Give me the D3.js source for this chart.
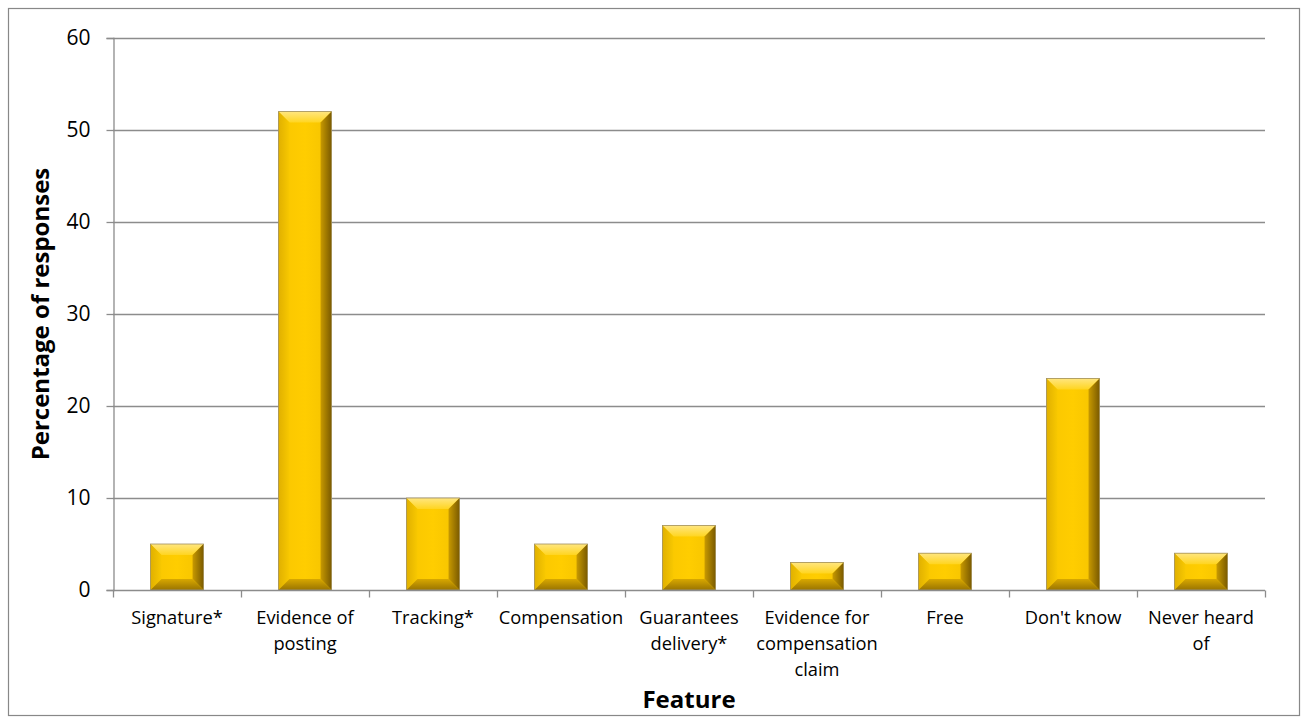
<!DOCTYPE html>
<html>
<head>
<meta charset="utf-8">
<script src="https://cdn.jsdelivr.net/npm/d3@7"></script>
<style>
  body { margin: 0; background: #fff; }
  text { font-family: "Open Sans", "Noto Sans", sans-serif; fill: #000; }
</style>
</head>
<body>
<script>
var features = ['Signature*', 'Evidence of posting', 'Tracking*', 'Compensation',
  'Guarantees delivery*', 'Evidence for compensation claim', 'Free', "Don't know", 'Never heard of']
var featureLines = [['Signature*'], ['Evidence of', 'posting'], ['Tracking*'], ['Compensation'],
  ['Guarantees', 'delivery*'], ['Evidence for', 'compensation', 'claim'], ['Free'], ["Don't know"], ['Never heard', 'of']]
var percentages = [5, 52, 10, 5, 7, 3, 4, 23, 4]
var yTicks = [0, 10, 20, 30, 40, 50, 60]

var W = 1306, H = 724
var svg = d3.select('body').append('svg').attr('width', W).attr('height', H)

svg.append('rect').attr('x', 8.5).attr('y', 8.5).attr('width', 1291).attr('height', 707)
  .attr('fill', '#fff').attr('stroke', '#888').attr('stroke-width', 1.2)

var pLeft = 113, pRight = 1265, pTop = 38, pBottom = 590
var x = d3.scaleBand().domain(features).range([pLeft, pRight]).paddingInner(0.585).paddingOuter(0.2925)
var xb = d3.scaleBand().domain(features).range([pLeft, pRight])
var y = d3.scaleLinear().domain([0, 60]).range([pBottom, pTop])

// gridlines
svg.append('g').selectAll('line').data(yTicks.slice(1)).enter().append('line')
  .attr('x1', pLeft).attr('x2', pRight)
  .attr('y1', function(d){ return Math.round(y(d)) + 0.5 })
  .attr('y2', function(d){ return Math.round(y(d)) + 0.5 })
  .attr('stroke', '#8c8c8c').attr('stroke-width', 1.3)

// y axis
var ya = svg.append('g').attr('transform', 'translate(' + (pLeft + 0.5) + ',0)')
  .call(d3.axisLeft(y).tickValues(yTicks).tickSize(7).tickPadding(16))
ya.select('.domain').attr('stroke', '#8c8c8c').attr('stroke-width', 1.3)
ya.selectAll('.tick line').attr('stroke', '#8c8c8c').attr('stroke-width', 1.3)
ya.selectAll('.tick text').style('font-size', '21px').style('font-family', '"Open Sans", sans-serif')

// bars with bevel
var defs = svg.append('defs')
function grad(id, horiz, stops){
  var lg = defs.append('linearGradient').attr('id', id)
    .attr('x1', 0).attr('y1', 0).attr('x2', horiz ? 1 : 0).attr('y2', horiz ? 0 : 1)
  stops.forEach(function(s){ lg.append('stop').attr('offset', s[0]).attr('stop-color', s[1]) })
}
grad('face', true, [['0%', '#f9c600'], ['50%', '#ffcd00'], ['100%', '#f4c200']])
grad('bvTop', false, [['0%', '#ffe680'], ['100%', '#ffd520']])
grad('bvLeft', true, [['0%', '#e0b000'], ['100%', '#f8c800']])
grad('bvRight', true, [['0%', '#c89a00'], ['100%', '#7a5a00']])
grad('bvBottom', false, [['0%', '#d8a800'], ['100%', '#9a7400']])

var g = svg.append('g')
percentages.forEach(function(v, i){
  var x0 = x(features[i]), x1 = x0 + x.bandwidth()
  var y0 = y(v), y1 = y(0)
  var b = Math.min(11, (y1 - y0) / 2.2)
  var bar = g.append('g')
  bar.append('rect').attr('x', x0).attr('y', y0).attr('width', x1 - x0).attr('height', y1 - y0).attr('fill', 'url(#face)')
  bar.append('polygon').attr('points', [[x0, y0], [x1, y0], [x1 - b, y0 + b], [x0 + b, y0 + b]].join(' '))
    .attr('fill', 'url(#bvTop)')
  bar.append('polygon').attr('points', [[x0, y0], [x0 + b, y0 + b], [x0 + b, y1 - b], [x0, y1]].join(' '))
    .attr('fill', 'url(#bvLeft)')
  bar.append('polygon').attr('points', [[x1, y0], [x1 - b, y0 + b], [x1 - b, y1 - b], [x1, y1]].join(' '))
    .attr('fill', 'url(#bvRight)')
  bar.append('polygon').attr('points', [[x0, y1], [x0 + b, y1 - b], [x1 - b, y1 - b], [x1, y1]].join(' '))
    .attr('fill', 'url(#bvBottom)')
  bar.append('rect').attr('x', x0).attr('y', y0).attr('width', x1 - x0).attr('height', y1 - y0)
    .attr('fill', 'none').attr('stroke', '#a09060').attr('stroke-width', 0.8)
})

// x axis
var xa = svg.append('g').attr('transform', 'translate(0,' + (pBottom + 0.5) + ')')
xa.append('line').attr('x1', pLeft).attr('x2', pRight).attr('stroke', '#8c8c8c').attr('stroke-width', 1.3)
var bounds = features.map(function(f){ return xb(f) }).concat([pRight])
xa.selectAll('.tk').data(bounds).enter().append('line')
  .attr('x1', function(d){ return Math.round(d) + 0.5 }).attr('x2', function(d){ return Math.round(d) + 0.5 })
  .attr('y1', 0).attr('y2', 7).attr('stroke', '#8c8c8c').attr('stroke-width', 1.3)

var labels = svg.append('g')
featureLines.forEach(function(lines, i){
  var cx = xb(features[i]) + xb.bandwidth() / 2
  var t = labels.append('text').attr('text-anchor', 'middle').style('font-size', '18.3px')
  lines.forEach(function(l, j){
    t.append('tspan').attr('x', cx).attr('y', 624 + j * 26).text(l)
  })
})

// axis titles
svg.append('text').attr('transform', 'translate(49,' + ((pTop + pBottom) / 2) + ') rotate(-90)')
  .attr('text-anchor', 'middle').style('font-size', '24px').style('font-weight', 'bold')
  .text('Percentage of responses')
svg.append('text').attr('x', (pLeft + pRight) / 2).attr('y', 708)
  .attr('text-anchor', 'middle').style('font-size', '24px').style('font-weight', 'bold')
  .text('Feature')
</script>
</body>
</html>
